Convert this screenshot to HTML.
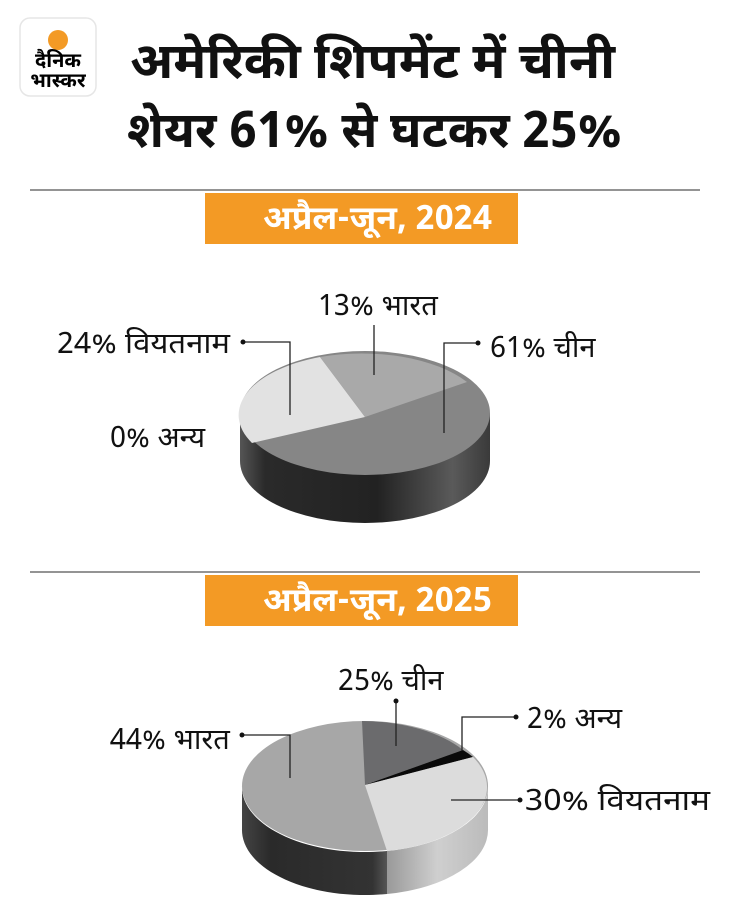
<!DOCTYPE html>
<html><head><meta charset="utf-8"><style>
html,body{margin:0;padding:0;background:#fff;}
body{width:730px;height:916px;position:relative;overflow:hidden;font-family:"Noto Sans Devanagari","Lohit Devanagari","Liberation Sans",sans-serif;}
svg{position:absolute;left:0;top:0}
</style></head><body>
<svg width="730" height="916" viewBox="0 0 730 916" xmlns="http://www.w3.org/2000/svg">
<defs>
<linearGradient id="s1" x1="0" x2="1" y1="0" y2="0">
<stop offset="0" stop-color="#555"/><stop offset="0.1" stop-color="#2a2a2a"/><stop offset="0.55" stop-color="#222"/><stop offset="0.85" stop-color="#5a5a5a"/><stop offset="1" stop-color="#3a3a3a"/></linearGradient>
<linearGradient id="s2l" x1="0" x2="1" y1="0" y2="0">
<stop offset="0" stop-color="#444"/><stop offset="0.2" stop-color="#2a2a2a"/><stop offset="0.9" stop-color="#333"/><stop offset="1" stop-color="#555"/></linearGradient>
<linearGradient id="s2r" x1="0" x2="1" y1="0" y2="0">
<stop offset="0" stop-color="#999"/><stop offset="0.5" stop-color="#cfcfcf"/><stop offset="1" stop-color="#bbb"/></linearGradient>
</defs>
<rect x="20" y="18" width="76" height="78" rx="10" fill="#fff" stroke="#e6e6e6" stroke-width="1.5"/>
<circle cx="58" cy="40" r="10" fill="#f39a25"/>
<text x="58" y="67" font-size="20" font-weight="bold" text-anchor="middle" fill="#000">दैनिक</text>
<text x="58" y="87" font-size="20" font-weight="bold" text-anchor="middle" fill="#000">भास्कर</text>
<text x="130" y="78" font-size="50" font-weight="bold" fill="#111" textLength="485" lengthAdjust="spacingAndGlyphs">अमेरिकी शिपमेंट में चीनी</text>
<text x="127" y="147" font-size="50" font-weight="bold" fill="#111" textLength="495" lengthAdjust="spacingAndGlyphs">शेयर 61% से घटकर 25%</text>
<line x1="30" y1="190" x2="700" y2="190" stroke="#555" stroke-width="1.2"/>
<rect x="205" y="193" width="313" height="51" fill="#f39a25"/>
<text x="263" y="229" font-size="33" font-weight="bold" fill="#fff" textLength="229" lengthAdjust="spacingAndGlyphs">अप्रैल-जून, 2024</text>
<line x1="30" y1="572" x2="700" y2="572" stroke="#555" stroke-width="1.2"/>
<rect x="205" y="575" width="313" height="51" fill="#f39a25"/>
<text x="263" y="611" font-size="33" font-weight="bold" fill="#fff" textLength="229" lengthAdjust="spacingAndGlyphs">अप्रैल-जून, 2025</text>

<path d="M240 413 L240 461 A125 62 0 0 0 490 461 L490 413 Z" fill="url(#s1)"/>
<ellipse cx="365" cy="413" rx="125" ry="62" fill="#868686"/>
<path d="M365 417 L320 357 A125 62 0 0 0 252 443 Z" fill="#e2e2e2"/>
<path d="M365 417 L467 382 A125 62 0 0 0 320 357 Z" fill="#a9a9a9"/>

<path d="M242 786 V829 A123 65 0 0 0 387 894 V851 A123 65 0 0 1 242 786 Z" fill="url(#s2l)"/>
<path d="M387 851 V894 A123 65 0 0 0 488 829 V786 A123 65 0 0 1 387 851 Z" fill="url(#s2r)"/>
<ellipse cx="365" cy="786" rx="123" ry="65" fill="#a7a7a7"/>
<path d="M365 785 L362 721 A123 65 0 0 1 463 750 Z" fill="#6b6b6d"/>
<path d="M365 785 L463 750 A123 65 0 0 1 473 757 Z" fill="#0a0a0a"/>
<path d="M365 785 L473 757 A123 65 0 0 1 387 851 Z" fill="#dcdcdc"/>

<g stroke="#222" stroke-width="1.3" fill="none">
<path d="M374 325 V375"/>
<path d="M243 342 H290 V415"/>
<path d="M478 343 H444 V433"/>
<path d="M396 701 V746"/>
<path d="M516 717 H462 V751"/>
<path d="M242 735 H290 V778"/>
<path d="M520 800 H451"/>
</g>
<g fill="#111"><circle cx="243" cy="342" r="2.5"/><circle cx="478" cy="343" r="2.5"/><circle cx="396" cy="701" r="2.5"/><circle cx="516" cy="717" r="2.5"/><circle cx="242" cy="735" r="2.5"/><circle cx="520" cy="800" r="2.5"/></g>
<g font-size="29" fill="#111">
<text x="318" y="315">13% भारत</text>
<text x="57" y="353" textLength="173" lengthAdjust="spacingAndGlyphs">24% वियतनाम</text>
<text x="490" y="357">61% चीन</text>
<text x="110" y="447">0% अन्य</text>
<text x="338" y="690">25% चीन</text>
<text x="527" y="728">2% अन्य</text>
<text x="110" y="749">44% भारत</text>
<text x="525" y="810" textLength="185" lengthAdjust="spacingAndGlyphs">30% वियतनाम</text>
</g>
</svg>
</body></html>
